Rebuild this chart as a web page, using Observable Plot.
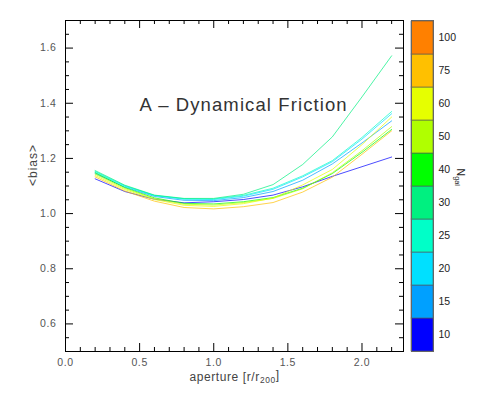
<!DOCTYPE html>
<html><head><meta charset="utf-8">
<script src="https://cdn.jsdelivr.net/npm/d3@7"></script>
<script src="https://cdn.jsdelivr.net/npm/@observablehq/plot@0.6"></script>
<style>
body{margin:0;background:#fff;}
#chart{position:relative;width:491px;height:393px;font-family:"Liberation Sans",Arial,sans-serif;}
#chart svg{position:absolute;top:0;background:none;}
</style></head><body><div id="chart"></div>
<script>
// ---- data ----
const apertures = [0.2, 0.4, 0.6, 0.8, 1.0, 1.2, 1.4, 1.6, 1.8, 2.0, 2.2];
const nGalBins = [10, 15, 20, 25, 30, 40, 50, 60, 75, 100];
const binColors = ["#0000ff", "#00a0ff", "#00e0ff", "#00ffc8", "#00f080", "#00ff00", "#b0ff00", "#e6ff00", "#ffc000", "#ff8000"];
const bias10 = [1.126, 1.080, 1.052, 1.039, 1.043, 1.051, 1.067, 1.097, 1.135, 1.170, 1.205];
const bias15 = [1.145, 1.096, 1.062, 1.048, 1.047, 1.058, 1.080, 1.121, 1.180, 1.256, 1.336];
const bias20 = [1.150, 1.099, 1.065, 1.052, 1.051, 1.063, 1.088, 1.133, 1.188, 1.270, 1.362];
const bias25 = [1.153, 1.101, 1.066, 1.054, 1.053, 1.066, 1.092, 1.137, 1.192, 1.276, 1.370];
const bias30 = [1.156, 1.103, 1.067, 1.055, 1.055, 1.070, 1.105, 1.178, 1.278, 1.423, 1.572];
const bias40 = [1.148, 1.094, 1.057, 1.037, 1.035, 1.043, 1.058, 1.092, 1.145, 1.222, 1.305];
const bias50 = [1.143, 1.091, 1.054, 1.034, 1.031, 1.040, 1.055, 1.090, 1.148, 1.228, 1.315];
const bias60 = [1.138, 1.087, 1.051, 1.030, 1.026, 1.036, 1.056, 1.104, 1.160, 1.250, 1.350];
const bias75 = [1.133, 1.082, 1.045, 1.022, 1.017, 1.025, 1.040, 1.078, 1.132, 1.215, 1.300];
const seriesN = [10, 15, 20, 25, 30, 40, 50, 60, 75];
const seriesBias = [bias10, bias15, bias20, bias25, bias30, bias40, bias50, bias60, bias75];
const xMajor = [0, 0.5, 1.0, 1.5, 2.0];
const xMinor = [0.1,0.2,0.3,0.4,0.6,0.7,0.8,0.9,1.1,1.2,1.3,1.4,1.6,1.7,1.8,1.9,2.1,2.2];
const yMajor = [0.6, 0.8, 1.0, 1.2, 1.4, 1.6];
const yMinor = [0.55,0.65,0.7,0.75,0.85,0.9,0.95,1.05,1.1,1.15,1.25,1.3,1.35,1.45,1.5,1.55,1.65];
const titleText = "A – Dynamical Friction";

const rows = seriesN.flatMap((n, i) => apertures.map((a, j) => ({n, aperture: a, bias: seriesBias[i][j]})));

// ---- layout ----
const W = 491, H = 393, mL = 65, mR = 88, mT = 20, mB = 42;
const pw = W - mL - mR, ph = H - mT - mB;
const major = 8, minor = 4;
const ink = "#000", txt = "#444";

const main = Plot.plot({
  width: W, height: H,
  marginLeft: mL, marginRight: mR, marginTop: mT, marginBottom: mB,
  style: {fontFamily: '"Liberation Sans", Arial, sans-serif', fontSize: "10.5px", color: txt, background: "none"},
  x: {domain: [0, 2.28]},
  y: {domain: [0.5, 1.7]},
  color: {type: "ordinal", domain: nGalBins, range: binColors},
  marks: [
    Plot.line(rows, {x: "aperture", y: "bias", z: "n", stroke: "n", strokeWidth: 1, strokeOpacity: 0.7}),
    Plot.frame({stroke: ink, strokeWidth: 1}),
    Plot.tickX(xMajor, {x: d => d, insetTop: ph - major, stroke: ink}),
    Plot.tickX(xMajor, {x: d => d, insetBottom: ph - major, stroke: ink}),
    Plot.tickX(xMinor, {x: d => d, insetTop: ph - minor, stroke: ink}),
    Plot.tickX(xMinor, {x: d => d, insetBottom: ph - minor, stroke: ink}),
    Plot.tickY(yMajor, {y: d => d, insetRight: pw - major, stroke: ink}),
    Plot.tickY(yMajor, {y: d => d, insetLeft: pw - major, stroke: ink}),
    Plot.tickY(yMinor, {y: d => d, insetRight: pw - minor, stroke: ink}),
    Plot.tickY(yMinor, {y: d => d, insetLeft: pw - minor, stroke: ink}),
    Plot.axisX({ticks: xMajor, tickSize: 0, tickPadding: 7, tickFormat: d3.format(".1f"), label: null, fill: "#555"}),
    Plot.axisY({ticks: yMajor, tickSize: 0, tickPadding: 9, tickFormat: d3.format(".1f"), label: null, fill: "#555"}),
    Plot.text([titleText], {frameAnchor: "top-left", dx: 74, dy: 77, textAnchor: "start", fontSize: 18.5, fill: "#333"}),
    Plot.text(["aperture [r/r200]"], {frameAnchor: "bottom", dy: 29, fontSize: 12, fill: txt}),
    Plot.text(["<bias>"], {frameAnchor: "left", dx: -32, rotate: -90, fontSize: 12, fill: txt})
  ]
});

const cbW = 91;
const bar = Plot.plot({
  width: cbW, height: H,
  marginLeft: 11, marginRight: 58, marginTop: mT, marginBottom: mB,
  style: {fontFamily: '"Liberation Sans", Arial, sans-serif', fontSize: "10.5px", color: "#222", background: "none", overflow: "visible"},
  y: {type: "band", domain: nGalBins.slice().reverse(), padding: 0},
  color: {type: "ordinal", domain: nGalBins, range: binColors},
  marks: [
    Plot.cell(nGalBins, {y: d => d, fill: d => d, stroke: "#555", strokeWidth: 0.6}),
    Plot.frame({stroke: "#666", strokeWidth: 1}),
    Plot.axisY({anchor: "right", tickSize: 0, tickPadding: 5, label: null, fill: "#222"}),
    Plot.text(["Ngal"], {frameAnchor: "right", dx: 27, rotate: 90, fontSize: 10.5, fill: "#222"})
  ]
});

const host = document.getElementById("chart");
main.style.left = "0px";
bar.style.left = "400px";
host.appendChild(main);
host.appendChild(bar);

function styleText(svg, content, prop, value) {
  d3.select(svg).selectAll("text").filter(function() { return this.textContent === content; }).style(prop, value);
}
styleText(main, titleText, "letter-spacing", "1.1px");
styleText(main, "aperture [r/r200]", "letter-spacing", "0.6px");
styleText(main, "<bias>", "letter-spacing", "1px");
d3.select(main).selectAll("text").filter(function() { return /^\d\.\d$/.test(this.textContent); }).style("letter-spacing", "0.6px");

// subscripts
function subscript(svg, full, base, sub, tail) {
  d3.select(svg).selectAll("text").filter(function() { return this.textContent === full; }).each(function() {
    const t = d3.select(this);
    t.text(null);
    t.append("tspan").text(base);
    t.append("tspan").attr("dy", "0.35em").attr("font-size", "0.7em").text(sub);
    if (tail) t.append("tspan").attr("dy", "-0.35em").text(tail);
  });
}
subscript(main, "aperture [r/r200]", "aperture [r/r", "200", "]");
subscript(bar, "Ngal", "N", "gal", "");
</script></body></html>
